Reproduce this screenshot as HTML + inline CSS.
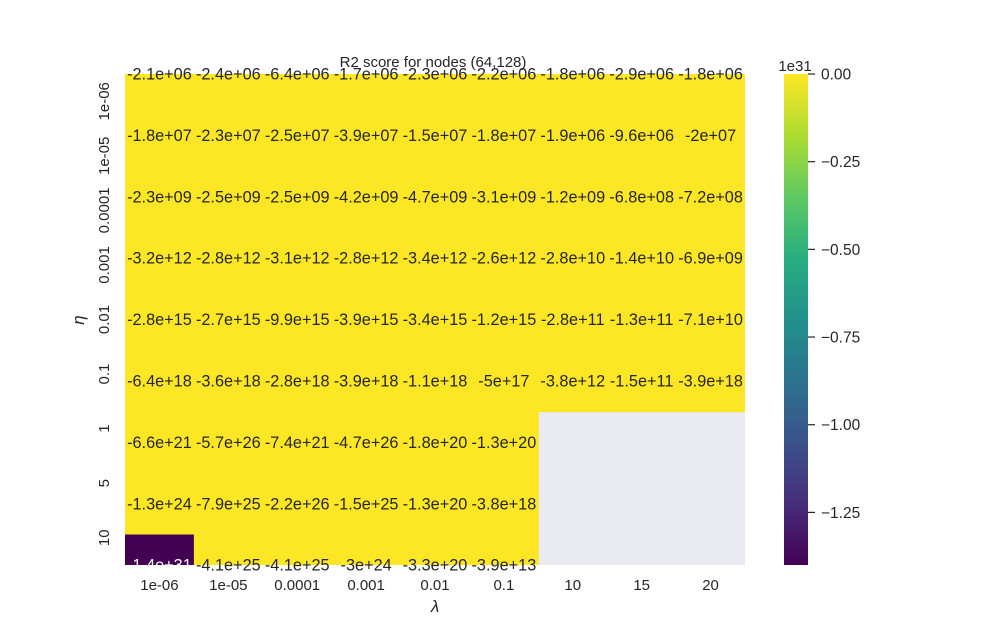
<!DOCTYPE html>
<html><head><meta charset="utf-8"><style>
body{margin:0;background:#fff;}
svg text{font-family:"Liberation Sans",sans-serif;fill:#262626;}
</style></head><body>
<svg id="chart" width="1000" height="635" viewBox="0 0 1000 635">
<defs>
<clipPath id="plotclip"><rect x="125" y="74" width="620" height="491"/></clipPath>
<linearGradient id="vir" x1="0" y1="1" x2="0" y2="0">
<stop offset="0" stop-color="#440154"/><stop offset="0.125" stop-color="#472d7b"/><stop offset="0.25" stop-color="#3b528b"/><stop offset="0.375" stop-color="#2c728e"/><stop offset="0.5" stop-color="#21918c"/><stop offset="0.625" stop-color="#28ae80"/><stop offset="0.75" stop-color="#5ec962"/><stop offset="0.875" stop-color="#addc30"/><stop offset="1" stop-color="#fde725"/>
</linearGradient>
</defs>
<rect x="125" y="74" width="620" height="491" fill="#eaeaf2"/>
<g id="cells" clip-path="url(#plotclip)"></g>
<g id="annots"></g>
<g id="xt"></g>
<g id="yt"></g>
<text x="433" y="67" font-size="15" text-anchor="middle">R2 score for nodes (64,128)</text>
<text x="435" y="612" font-size="17" font-style="italic" text-anchor="middle">λ</text>
<text x="84" y="320" font-size="17" font-style="italic" text-anchor="middle" transform="rotate(-90 84 320)">η</text>
<rect x="784" y="74" width="24" height="491" fill="url(#vir)"/>
<text x="795" y="71" font-size="15" text-anchor="middle">1e31</text>
<g id="cbt"></g>
</svg>
<script>
const xLabels=["1e-06","1e-05","0.0001","0.001","0.01","0.1","10","15","20"];
const yLabels=["1e-06","1e-05","0.0001","0.001","0.01","0.1","1","5","10"];
const row0=[-2.1e6,-2.4e6,-6.4e6,-1.7e6,-2.3e6,-2.2e6,-1.8e6,-2.9e6,-1.8e6];
const row1=[-1.8e7,-2.3e7,-2.5e7,-3.9e7,-1.5e7,-1.8e7,-1.9e6,-9.6e6,-2e7];
const row2=[-2.3e9,-2.5e9,-2.5e9,-4.2e9,-4.7e9,-3.1e9,-1.2e9,-6.8e8,-7.2e8];
const row3=[-3.2e12,-2.8e12,-3.1e12,-2.8e12,-3.4e12,-2.6e12,-2.8e10,-1.4e10,-6.9e9];
const row4=[-2.8e15,-2.7e15,-9.9e15,-3.9e15,-3.4e15,-1.2e15,-2.8e11,-1.3e11,-7.1e10];
const row5=[-6.4e18,-3.6e18,-2.8e18,-3.9e18,-1.1e18,-5e17,-3.8e12,-1.5e11,-3.9e18];
const row6=[-6.6e21,-5.7e26,-7.4e21,-4.7e26,-1.8e20,-1.3e20,NaN,NaN,NaN];
const row7=[-1.3e24,-7.9e25,-2.2e26,-1.5e25,-1.3e20,-3.8e18,NaN,NaN,NaN];
const row8=[-1.4e31,-4.1e25,-4.1e25,-3e24,-3.3e20,-3.9e13,NaN,NaN,NaN];
const cbTicks=[0,-0.25,-0.5,-0.75,-1.0,-1.25];
const cbTickLabels=["0.00","−0.25","−0.50","−0.75","−1.00","−1.25"];
const rows=[row0,row1,row2,row3,row4,row5,row6,row7,row8];
const NS="http://www.w3.org/2000/svg";
const X0=125,W=620,Y0=74,H=491,nC=xLabels.length,nR=yLabels.length;
const cw=W/nC, rh=61.4;
const xc=i=>X0+cw*(i+0.5);
const yc=j=>Y0+rh*j;
let all=rows.flat().filter(v=>!isNaN(v));
const vmin=Math.min(...all), vmax=Math.max(...all);
const stops=["#440154","#472d7b","#3b528b","#2c728e","#21918c","#28ae80","#5ec962","#addc30","#fde725"];
function hex(h){return [1,3,5].map(k=>parseInt(h.substr(k,2),16));}
function vir(t){t=Math.max(0,Math.min(1,t));const p=t*(stops.length-1),k=Math.min(Math.floor(p),stops.length-2),f=p-k;const a=hex(stops[k]),b=hex(stops[k+1]);return "rgb("+a.map((v,i)=>Math.round(v+(b[i]-v)*f)).join(",")+")";}
function fmt(v){let s=v.toPrecision(2);let m=s.match(/^(-?[\d.]+)e([+-])(\d+)$/);if(!m){return s.replace(/\.0$/,"");}let man=m[1].replace(/\.0$/,"");let e=m[3].length<2?"0"+m[3]:m[3];return man+"e"+m[2]+e;}
function mk(tag,attrs,parent,txt){const e=document.createElementNS(NS,tag);for(const k in attrs)e.setAttribute(k,attrs[k]);if(txt!==undefined)e.textContent=txt;parent.appendChild(e);return e;}
const cells=document.getElementById("cells"),ann=document.getElementById("annots");
rows.forEach((r,j)=>r.forEach((v,i)=>{
 if(isNaN(v))return;
 const t=(v-vmin)/(vmax-vmin);
 const rc=mk("rect",{x:X0+cw*i,y:yc(j)-rh/2,width:cw+0.5,height:rh+0.5,fill:vir(t)},cells);
 
 
 const tx=mk("text",{x:xc(i),y:yc(j)+5.5,"font-size":"16.3","text-anchor":"middle"},ann,fmt(v));
 if(t<0.5)tx.style.fill="#fff";
 
 
}));
const xt=document.getElementById("xt");
xLabels.forEach((l,i)=>{const t=mk("text",{x:xc(i),y:590,"font-size":"15","text-anchor":"middle"},xt,l);
 
 });
const yt=document.getElementById("yt");
yLabels.forEach((l,j)=>{const y=Y0+H/nR*(j+0.5);const t=mk("text",{x:109,y:y,"font-size":"15","text-anchor":"middle",transform:"rotate(-90 109 "+y+")"},yt,l);
 
 });
const cb=document.getElementById("cbt");
const cby=v=>Y0+H*(vmax/1e31-v)/((vmax-vmin)/1e31);
cbTicks.forEach((v,k)=>{const y=cby(v);
 const ln=mk("line",{x1:808,x2:815,y1:y,y2:y,stroke:"#262626","stroke-width":1.2},cb);
 
 
 const t=mk("text",{x:821,y:y+5.5,"font-size":"15.5"},cb,cbTickLabels[k]);
 
 });
</script>
</body></html>
